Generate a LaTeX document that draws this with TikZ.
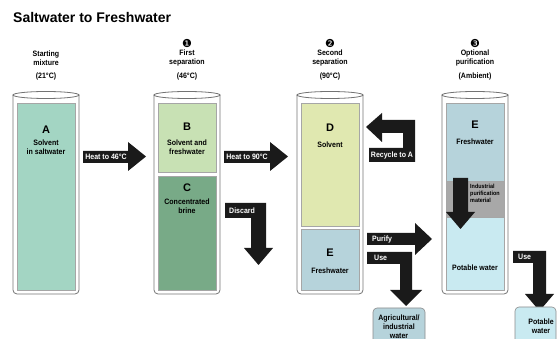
\documentclass[tikz,border=0pt]{standalone}
\usepackage{fontspec}
\setmainfont{Liberation Sans}
\newfontfamily\condfont[FakeStretch=0.9]{Liberation Sans}
\newfontfamily\numfont{DejaVu Sans}

\definecolor{saltgreen}{HTML}{A3D5C3}
\definecolor{solvgreen}{HTML}{C8E1B4}
\definecolor{brinegreen}{HTML}{78AA87}
\definecolor{solvyellow}{HTML}{E0E8B0}
\definecolor{freshblue}{HTML}{B6D3DB}
\definecolor{purgray}{HTML}{A8A8A8}
\definecolor{potblue}{HTML}{C9EAF1}
\definecolor{arrowblk}{HTML}{1A1A1A}

\tikzset{
  shell/.style={draw=black!55, line width=0.8pt},
  layer/.style={draw=black!35, line width=0.4pt},
  blk/.style={fill=arrowblk},
  lbl/.style={font=\condfont\bfseries\fontsize{7.8}{8.8}\selectfont, align=center, inner sep=0pt},
  onblk/.style={lbl, text=white},
  big/.style={font=\bfseries\fontsize{11}{12}\selectfont, inner sep=0pt},
  num/.style={font=\numfont\fontsize{11}{11}\selectfont, inner sep=0pt},
  outbox/.style={draw=black!45, rounded corners=4pt, line width=0.6pt},
}

\begin{document}
\begin{tikzpicture}[x=1pt, y=-1pt]
    \useasboundingbox (0,0) rectangle (558,339);
    \node[anchor=base west, font=\bfseries\fontsize{14}{16}\selectfont, inner sep=0pt] (title) at (13,23) {Saltwater to Freshwater};

    % headers
    \node[lbl] (h1) at (46,58) {Starting\\mixture};
    \node[lbl] (t1) at (46,76) {(21°C)};
    \node[num] (n1) at (187,43) {❶};
    \node[lbl] (h2) at (187,58) {First\\separation};
    \node[lbl] (t2) at (187,76) {(46°C)};
    \node[num] (n2) at (330,43) {❷};
    \node[lbl] (h3) at (330,58) {Second\\separation};
    \node[lbl] (t3) at (330,76) {(90°C)};
    \node[num] (n3) at (475,43) {❸};
    \node[lbl] (h4) at (475,58) {Optional\\purification};
    \node[lbl] (t4) at (475,76) {(Ambient)};

    % cylinders
    \foreach \cx in {46,187,330,475} {
        \draw[shell, rounded corners=4pt] (\cx-33,95) -- (\cx-33,294) -- (\cx+33,294) -- (\cx+33,95);
        \draw[shell, fill=white] (\cx,95) ellipse [x radius=33pt, y radius=3.5pt];
    }

    % contents
    \draw[layer, fill=saltgreen] (17,103) rectangle (75,290);
    \draw[layer, fill=solvgreen] (158,103) rectangle (216,172);
    \draw[layer, fill=brinegreen] (158,176) rectangle (216,290);
    \draw[layer, fill=solvyellow] (301,103) rectangle (359,226);
    \draw[layer, fill=freshblue] (301,229) rectangle (359,290);
    \draw[layer, fill=freshblue] (446,103) rectangle (504,181);
    \draw[layer, fill=purgray] (446,181) rectangle (504,217);
    \draw[layer, fill=potblue] (446,217) rectangle (504,290);

    \node[big] (A) at (46,130) {A};
    \node[lbl] (At) at (46,147) {Solvent\\in saltwater};
    \node[big] (B) at (187,127) {B};
    \node[lbl] (Bt) at (187,147) {Solvent and\\freshwater};
    \node[big] (C) at (187,188) {C};
    \node[lbl] (Ct) at (187,206) {Concentrated\\brine};
    \node[big] (D) at (330,128) {D};
    \node[lbl] (Dt) at (330,145) {Solvent};
    \node[big] (E1) at (330,253) {E};
    \node[lbl] (E1t) at (330,271) {Freshwater};
    \node[big] (E2) at (475,125) {E};
    \node[lbl] (E2t) at (475,142) {Freshwater};
    \node[lbl, anchor=west, align=left, font=\condfont\bfseries\fontsize{6}{7}\selectfont] (pur) at (470,193) {Industrial\\purification\\material};
    \node[lbl] (pot) at (475,268) {Potable water};

    % block arrows
    \fill[blk] (83,151) -- (128,151) -- (128,142) -- (146,156.5) -- (128,171) -- (128,163) -- (83,163) -- cycle;
    \node[onblk] (heat1) at (106,157) {Heat to 46°C};
    \fill[blk] (224,151) -- (270,151) -- (270,142) -- (288,156.5) -- (270,171) -- (270,163) -- (224,163) -- cycle;
    \node[onblk] (heat2) at (247,157) {Heat to 90°C};
    \fill[blk] (225,203) -- (266,203) -- (266,248) -- (273,248) -- (258.5,265) -- (244,248) -- (251,248) -- (251,218) -- (225,218) -- cycle;
    \node[onblk, anchor=west] (disc) at (229,210.5) {Discard};
    \fill[blk] (366,127) -- (382,113) -- (382,120) -- (415,120) -- (415,162) -- (369,162) -- (369,148) -- (403,148) -- (403,133) -- (382,133) -- (382,142) -- cycle;
    \node[onblk] (recyc) at (392,155) {Recycle to A};
    \fill[blk] (367,233) -- (415,233) -- (415,223) -- (432,239) -- (415,255) -- (415,245) -- (367,245) -- cycle;
    \node[onblk, anchor=west] (purify) at (372,239) {Purify};
    \fill[blk] (367,252) -- (412,252) -- (412,290) -- (422,290) -- (406,306) -- (390,290) -- (400,290) -- (400,264) -- (367,264) -- cycle;
    \node[onblk, anchor=west] (use1) at (374,258) {Use};
    \fill[blk] (453,178) -- (468,178) -- (468,212) -- (475,212) -- (460.5,229) -- (446,212) -- (453,212) -- cycle;
    \fill[blk] (513,251) -- (546,251) -- (546,294) -- (554,294) -- (539.5,311) -- (525,294) -- (533,294) -- (533,263) -- (513,263) -- cycle;
    \node[onblk, anchor=west] (use2) at (518,257) {Use};

    % outlets
    \draw[outbox, fill=freshblue] (373,308) rectangle (425,352);
    \node[lbl] (agri) at (399,326.5) {Agricultural/\\industrial\\water};
    \draw[outbox, fill=potblue] (515,307) rectangle (556,352);
    \node[lbl] (potw) at (541,326) {Potable\\water};
\end{tikzpicture}
\end{document}
